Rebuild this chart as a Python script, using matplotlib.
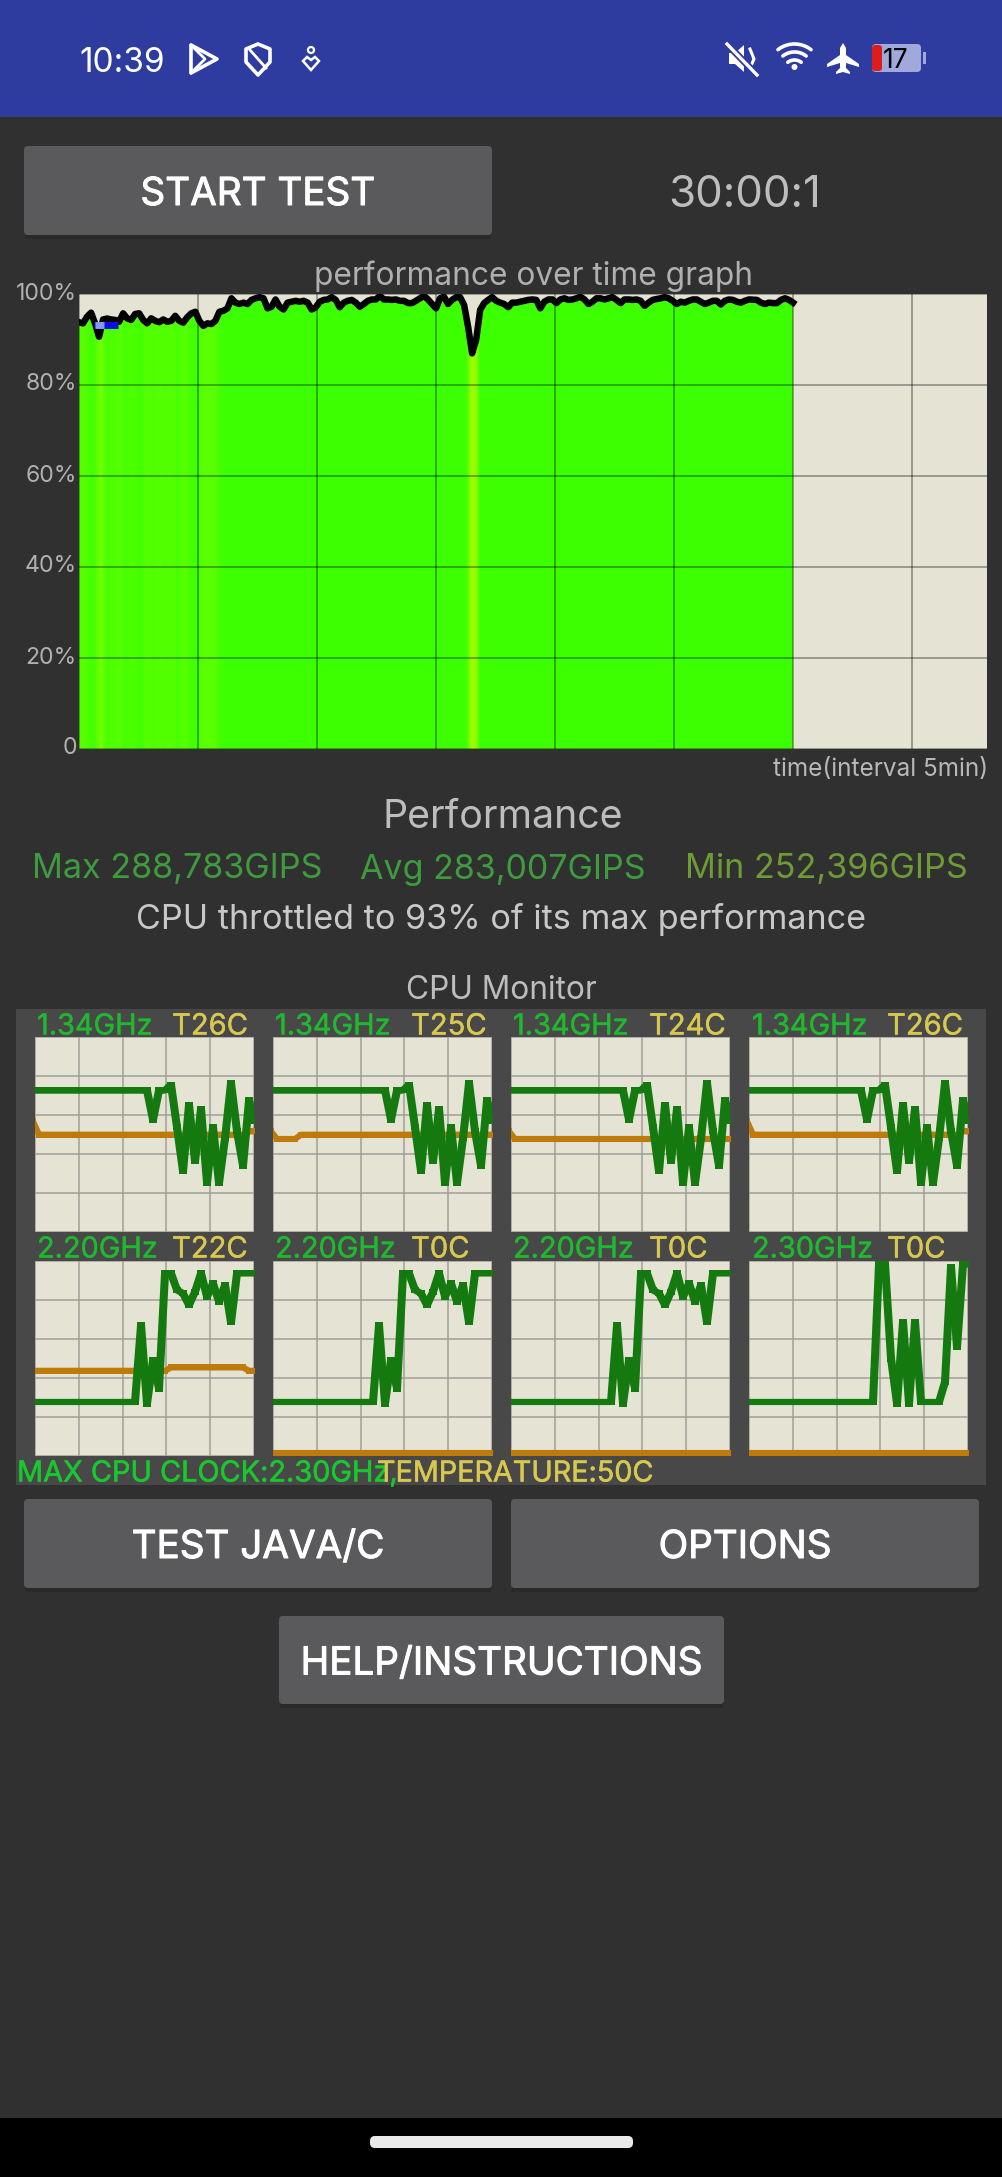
import numpy as np
import matplotlib
matplotlib.use('Agg')
import matplotlib.pyplot as plt
import matplotlib.patheffects as pe
from matplotlib.colors import LinearSegmentedColormap
from matplotlib.patches import Rectangle, FancyBboxPatch, Polygon, Circle
from matplotlib.transforms import ScaledTranslation

plt.rcParams['font.family'] = ['Inter', 'DejaVu Sans']

W, H = 1003, 2177

# performance in %, one sample every 10 s over the 30 min test
perf = [93.8, 93.55, 95.0, 95.9, 93.55, 90.6, 94.4, 94.6, 94.4, 94.3, 93.9, 95.75, 94.65, 94.3, 95.6, 95.75,
        94.3, 93.55, 94.65, 94.1, 93.8, 94.4, 93.9, 94.1, 95.2, 94.1, 93.7, 94.9, 95.75, 96.1, 94.1, 93.0,
        93.55, 93.4, 94.1, 96.1, 96.3, 96.85, 99.05, 98.1, 97.8, 98.1, 97.8, 98.7, 99.05, 99.3, 99.05, 96.85,
        97.2, 98.8, 97.2, 96.6, 98.1, 98.3, 98.5, 98.3, 98.5, 98.1, 96.6, 97.05, 98.3, 98.7, 98.8,
        99.3, 98.7, 97.1, 98.1, 98.5, 98.7, 98.1, 97.2, 97.8, 98.5, 98.8, 98.8, 99.6, 98.8, 98.8, 98.7,
        98.8, 98.5, 98.5, 98.0, 98.0, 98.5, 99.05, 99.6, 98.8, 97.8, 96.85, 99.05, 99.4, 97.8, 98.7, 99.3,
        99.3, 97.6, 92.8, 86.95, 89.9, 96.5, 98.0, 98.7, 99.3, 98.5, 98.1, 97.8, 97.1, 98.1, 98.1, 98.3,
        98.5, 98.7, 98.8, 98.7, 96.85, 98.3, 98.8, 98.8, 98.0, 98.8, 99.05, 98.7,
        98.8, 99.05, 99.4, 98.8, 97.8, 98.3, 99.05, 99.05, 98.8, 99.05, 99.3, 98.7, 98.0, 98.8, 98.8, 98.7,
        98.8, 98.5, 97.4, 98.1, 98.7, 98.9, 99.05, 99.3, 99.05, 98.5, 97.8, 98.3, 98.1, 98.5, 98.8, 98.8,
        98.3, 97.8, 98.1, 98.5, 98.5, 97.7, 98.5, 98.8, 98.7, 98.3, 98.1, 98.5, 98.8, 98.75, 98.7, 98.1,
        97.8, 98.1, 98.0, 98.0, 98.7, 99.05, 98.7, 98.1]
blue_t = [0.63, 1.64]
blue_v = [93.2, 93.2]
pale_t = [0.67, 1.05]
pale_v = [93.2, 93.2]
y_ticks = [0, 20, 40, 60, 80, 100]
y_labels = ['0', '20%', '40%', '60%', '80%', '100%']
x_ticks = [0, 5, 10, 15, 20, 25, 30, 35]

# cpu monitor: 38 samples per core, % of the small graph height
little_freq = [72.6] * 20 + [57.6, 72.6, 72.6, 75.6, 53.7, 31.1, 65.3, 36.2, 63.2, 25.1, 53.7, 25.1, 48.0, 76.4, 51.6,
                             34.0, 67.5, 56.8]
big_freq = [27.7] * 18 + [67.1, 26.9, 49.1, 34.6, 93.7, 93.7, 85.1, 83.4, 77.4, 84.2, 93.7, 81.7, 88.5, 79.1, 87.7,
                          68.5, 93.7, 93.7, 93.7, 93.7]
prime_freq = [27.7] * 22 + [98.3, 98.3, 50.0, 26.9, 68.9, 26.9, 68.9, 27.7, 27.7, 27.7, 27.7, 38.0, 97.1, 55.8, 98.3,
                            98.3]
temp_a = [56.8] + [49.9] * 35 + [51.6, 51.6]
temp_b = [51.6] + [47.7] * 4 + [49.9] * 33
temp_c = [51.6] + [47.7] * 37
temp_d = [43.7] * 23 + [45.4] * 13 + [43.7] * 2
temp_off = [1.4] * 38

core_freq = [little_freq, little_freq, little_freq, little_freq, big_freq, big_freq, big_freq, prime_freq]
core_temp = [temp_a, temp_b, temp_c, temp_a, temp_d, temp_off, temp_off, temp_off]
core_ghz = ['1.34GHz', '1.34GHz', '1.34GHz', '1.34GHz', '2.20GHz', '2.20GHz', '2.20GHz', '2.30GHz']
core_t = ['T26C', 'T25C', 'T24C', 'T26C', 'T22C', 'T0C', 'T0C', 'T0C']

BG = '#303030'
CREAM = '#E5E3D3'
BTN = '#5A5A5C'
LINE_G = '#147A10'
LINE_O = '#BF7A0C'
TXT_G = '#1FB82F'
TXT_Y = '#D9C84F'


def axes_px(x0, y0, x1, y1):
    return fig.add_axes([x0 / W, 1 - y1 / H, (x1 - x0) / W, (y1 - y0) / H])


def button(x0, y0, x1, y1, label):
    bg.add_patch(Rectangle((x0 + 1, y0 + 2), x1 - x0 - 2, y1 - y0 + 2, fc='#292929', ec='none'))
    bg.add_patch(FancyBboxPatch((x0 + 4, y0 + 4), x1 - x0 - 8, y1 - y0 - 8, boxstyle='round,pad=4,rounding_size=4',
                                fc=BTN, ec='none'))
    t = bg.text((x0 + x1) / 2, (y0 + y1) / 2 + 0.5, label, color='white', fontsize=27.8, ha='center',
                va='center_baseline')
    t.set_path_effects([pe.withStroke(linewidth=0.7, foreground='white')])


def txt(x, y, s, color, size, ha='center', stroke=0):
    t = bg.text(x, y, s, color=color, fontsize=size, ha=ha, va='center_baseline')
    if stroke:
        t.set_path_effects([pe.withStroke(linewidth=stroke, foreground=color)])


fig = plt.figure(figsize=(W / 100, H / 100), dpi=100, facecolor=BG)
bg = fig.add_axes([0, 0, 1, 1])
bg.set_xlim(0, W)
bg.set_ylim(H, 0)
bg.axis('off')

# status bar
bg.add_patch(Rectangle((0, 0), W, 117, fc='#2E3C9F', ec='none'))
txt(79, 59, '10:39', 'white', 24, ha='left')
bg.add_patch(Polygon([(191, 45), (217, 59), (191, 73)], closed=True, fc='none', ec='white', lw=2.6, joinstyle='round'))
bg.plot([191, 205, 191], [45, 59, 73], color='white', lw=2)
bg.add_patch(Polygon([(258, 44), (270, 49), (270, 62), (258, 75), (246, 62), (246, 49)], closed=True, fc='none',
                     ec='white', lw=2.6, joinstyle='round'))
bg.plot([250, 266], [50, 68], color='white', lw=2)
bg.add_patch(Circle((311, 50), 3, fc='none', ec='white', lw=1.6))
bg.add_patch(Polygon([(311, 70), (303, 61), (307, 57), (311, 60), (315, 57), (319, 61)], closed=True, fc='none',
                     ec='white', lw=1.8))
# mute
bg.add_patch(Polygon([(729, 53), (735, 53), (744, 45), (744, 72), (735, 64), (729, 64)], closed=True, fc='white',
                     ec='none'))
bg.plot([750, 754, 750], [49, 59, 68], color='white', lw=2.2)
bg.plot([728, 758], [45, 76], color='#2E3C9F', lw=5)
bg.plot([727, 757], [44, 75], color='white', lw=2.4)
# wifi
for r, a in [(27, 0.66), (19, 0.66), (11, 0.66)]:
    th = np.linspace(-a, a, 30) - np.pi / 2
    bg.plot(794.5 + r * np.cos(th), 71 + r * np.sin(th), color='white', lw=2.6, solid_capstyle='round')
bg.add_patch(Circle((794.5, 67), 3, fc='white', ec='none'))
# plane
bg.add_patch(Polygon([(843, 43), (846, 48), (846, 55), (859, 64), (859, 67), (846, 63), (846, 68), (850, 72), (850, 74),
                      (843, 72), (836, 74), (836, 72), (840, 68), (840, 63), (827, 67), (827, 64), (840, 55), (840, 48)],
                     closed=True, fc='white', ec='none'))
# battery
bg.add_patch(FancyBboxPatch((876, 48), 41, 20, boxstyle='round,pad=4,rounding_size=4', fc='#A0A8DC', ec='none'))
bg.add_patch(FancyBboxPatch((875, 48), 4, 20, boxstyle='round,pad=3,rounding_size=3', fc='#DD1C1C', ec='none'))
bg.add_patch(Rectangle((923, 52), 3, 12, fc='#A0A8DC', ec='none'))
txt(896, 58, '17', 'black', 19)

# buttons and counters
button(24, 146, 492, 235, 'START TEST')
txt(745, 191, '30:00:1', '#BDBDBD', 31.6)
txt(534, 273, 'performance over time graph', '#B0B0B0', 22.8)
txt(988, 767, 'time(interval 5min)', '#B8B8B8', 17.5, ha='right')
txt(503, 814, 'Performance', '#BDBDBD', 28.3)
txt(32, 866, 'Max 288,783GIPS', '#3E9B3E', 24.6, ha='left')
txt(360, 866, 'Avg 283,007GIPS', '#3E9B3E', 24.5, ha='left')
txt(685, 866, 'Min 252,396GIPS', '#6E9B36', 24.6, ha='left')
txt(501, 916, 'CPU throttled to 93% of its max performance', '#C8C8C8', 24.6)
txt(501, 987, 'CPU Monitor', '#BDBDBD', 22.8)
button(24, 1499, 492, 1588, 'TEST JAVA/C')
button(511, 1499, 979, 1588, 'OPTIONS')
button(279, 1616, 724, 1704, 'HELP/INSTRUCTIONS')

# monitor panel
bg.add_patch(Rectangle((16, 1009), 970, 476, fc='#484848', ec='none'))
txt(17, 1471, 'MAX CPU CLOCK:2.30GHz,', '#19C72F', 20.8, ha='left', stroke=0.4)
txt(377, 1471, 'TEMPERATURE:50C', TXT_Y, 20.7, ha='left', stroke=0.4)

# nav bar
bg.add_patch(Rectangle((0, 2118), W, H - 2118, fc='black', ec='none'))
bg.add_patch(FancyBboxPatch((375, 2141), 253, 2, boxstyle='round,pad=5,rounding_size=5', fc='#EAEAEA', ec='none'))

# performance graph
time = np.linspace(0, 30, len(perf))
perf_cmap = LinearSegmentedColormap.from_list('perf', ['#B8F000', '#8CFF00', '#5CFF00', '#3CFF00', '#3CFF00'])
ax = axes_px(79, 294, 987, 749)
ax.set_facecolor(CREAM)
img = ax.imshow(np.array(perf)[np.newaxis], extent=(0, 30, 0, 100), aspect='auto', cmap=perf_cmap, vmin=86, vmax=100,
                interpolation='bilinear', zorder=0)
fill = ax.fill_between(time, perf, 0, color='none')
img.set_clip_path(fill.get_paths()[0], transform=ax.transData)
ax.set_xlim(0, 38.15)
ax.set_ylim(0, 100)
ax.set_xticks(x_ticks)
ax.set_yticks(y_ticks)
ax.set_xticklabels([])
ax.set_yticklabels(y_labels)
ax.tick_params(length=0, labelsize=16.6, labelcolor='#B0B0B0', pad=1.5)
ax.grid(color='black', alpha=0.42, lw=1.1)
ax.set_axisbelow(False)
for lbl in ax.get_yticklabels():
    lbl.set_transform(lbl.get_transform() + ScaledTranslation(0, 3 / 100, fig.dpi_scale_trans))
for s in ax.spines.values():
    s.set_visible(False)
ax.plot(time, perf, color='black', lw=4.7, zorder=4, solid_joinstyle='round')
ax.plot(blue_t, blue_v, color='#0A10E0', lw=5, solid_capstyle='butt', zorder=5)
ax.plot(pale_t, pale_v, color='#8899F0', lw=5, solid_capstyle='butt', zorder=5)

# cpu monitor graphs
col_x = [(35, 254), (273, 492), (511, 730), (749, 968)]
row_y = [(1037, 1232), (1261, 1456)]
ghz_x = [37, 275, 513, 752]
t_x = [172, 411, 649, 887]
label_y = [1024, 1247]
for i in range(8):
    row, col = i // 4, i % 4
    a = axes_px(col_x[col][0], row_y[row][0], col_x[col][1], row_y[row][1])
    a.set_facecolor(CREAM)
    samples = np.arange(38)
    a.set_xlim(0.33, 36.83)
    a.set_ylim(0, 100)
    a.set_xticks(np.linspace(0.33, 36.83, 6))
    a.set_yticks(y_ticks)
    a.tick_params(length=0, labelbottom=False, labelleft=False)
    a.grid(color='#A09F97', lw=1.1)
    a.set_axisbelow(True)
    for s in a.spines.values():
        s.set_visible(False)
    a.plot(samples, core_temp[i], color=LINE_O, lw=4.4, solid_capstyle='butt', solid_joinstyle='bevel',
           marker='s', ms=4.4, mew=0)
    # the app draws with a square brush, so steep parts come out wider
    for shift in (-0.16, 0.16):
        a.plot(samples + shift, core_freq[i], color=LINE_G, lw=4.4, solid_capstyle='butt', solid_joinstyle='bevel',
               marker='s', ms=4.6, mew=0)
    txt(ghz_x[col], label_y[row], core_ghz[i], TXT_G, 20.8, ha='left', stroke=0.3)
    txt(t_x[col], label_y[row], core_t[i], TXT_Y, 21, ha='left', stroke=0.3)

fig.savefig('out.png', dpi=100, facecolor=BG)
